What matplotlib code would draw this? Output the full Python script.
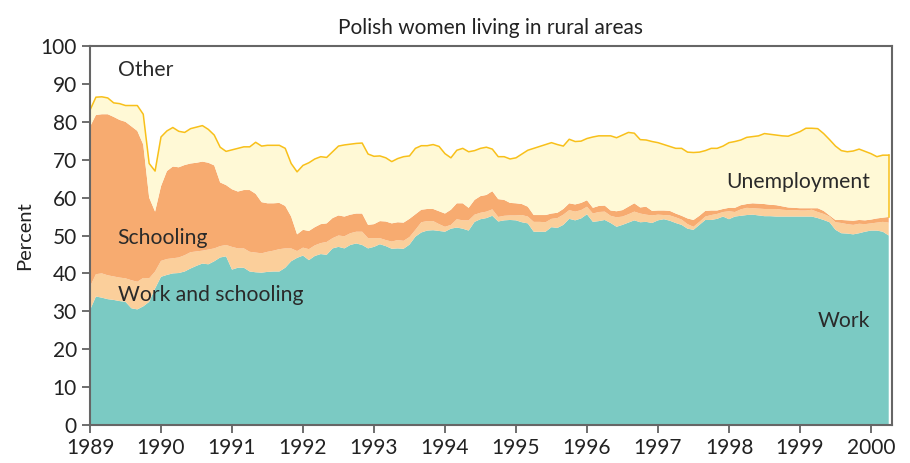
import numpy as np
import matplotlib
matplotlib.use("Agg")
import matplotlib.pyplot as plt

plt.rcParams["font.family"] = ["Lato", "DejaVu Sans"]

# monthly observations, Jan 1989 .. Apr 2000 (shares in percent)
start_year = 1989
work = [
    30.3, 33.9, 33.6, 33.2, 33.0, 32.7, 32.5, 30.8, 30.5, 31.3, 32.5, 36.0,
    39.1, 39.6, 40.0, 40.1, 40.5, 41.3, 42.0, 42.6, 42.4, 43.2, 44.2, 44.5,
    41.0, 41.5, 41.5, 40.5, 40.3, 40.2, 40.4, 40.5, 40.5, 41.5, 43.2, 44.1,
    44.7, 43.5, 44.6, 45.1, 44.9, 46.6, 47.0, 46.6, 47.5, 47.9, 47.5, 46.6,
    47.0, 47.7, 47.2, 46.5, 46.6, 46.5, 47.6, 49.7, 50.8, 51.3, 51.4, 51.2,
    51.0, 51.8, 52.1, 51.8, 51.3, 53.6, 54.3, 54.6, 55.2, 53.7, 54.0, 54.1,
    54.0, 53.5, 53.2, 51.0, 51.0, 51.0, 52.2, 52.0, 52.8, 54.4, 54.0, 54.5,
    55.6, 53.6, 53.8, 54.1, 53.3, 52.3, 52.8, 53.4, 54.0, 53.5, 53.6, 53.3,
    54.0, 54.3, 53.9, 53.3, 52.8, 51.8, 51.5, 52.8, 54.1, 54.1, 54.4, 55.0,
    54.3, 55.0, 55.2, 55.4, 55.5, 55.3, 55.1, 55.1, 55.0, 55.0, 55.0, 55.0,
    55.0, 55.0, 55.0, 54.6, 54.1, 53.5, 51.5, 50.6, 50.5, 50.3, 50.6, 51.0,
    51.3, 51.3, 51.0, 50.0,
]
work_and_schooling = [
    6.2, 5.9, 6.4, 6.3, 6.2, 6.2, 6.2, 7.4, 7.3, 7.5, 6.2, 4.5,
    4.2, 4.2, 4.0, 4.1, 4.3, 4.3, 3.8, 3.4, 3.9, 3.4, 3.0, 3.0,
    6.0, 5.1, 5.1, 5.2, 5.2, 5.1, 5.3, 5.5, 5.9, 5.1, 3.4, 1.8,
    2.1, 2.9, 2.8, 2.9, 3.4, 2.7, 3.0, 3.2, 3.1, 3.1, 3.5, 2.7,
    2.3, 1.6, 1.6, 1.9, 2.2, 2.1, 2.0, 1.8, 2.7, 2.5, 2.4, 1.8,
    1.3, 1.0, 2.2, 2.2, 2.7, 1.9, 1.7, 1.7, 1.7, 1.2, 1.2, 1.2,
    1.3, 1.9, 1.8, 2.6, 2.6, 2.5, 2.2, 2.6, 2.7, 2.3, 2.3, 2.2,
    2.0, 2.2, 2.4, 2.2, 1.9, 2.5, 2.2, 2.2, 2.3, 2.3, 1.9, 2.0,
    1.5, 1.1, 1.4, 1.5, 1.4, 1.2, 0.8, 0.8, 0.9, 1.3, 1.3, 1.2,
    2.1, 1.2, 1.7, 1.9, 1.7, 1.8, 1.9, 1.9, 2.0, 1.8, 1.7, 1.7,
    1.6, 1.6, 1.8, 1.6, 1.6, 1.5, 2.0, 2.7, 2.5, 2.5, 2.5, 2.0,
    1.9, 2.1, 2.6, 3.4,
]
schooling = [
    42.2, 42.0, 42.0, 42.5, 42.1, 41.6, 41.3, 40.6, 39.8, 35.2, 21.3, 15.8,
    19.7, 23.2, 24.2, 23.8, 23.8, 23.4, 23.4, 23.5, 22.9, 21.9, 16.8, 15.8,
    15.2, 15.0, 15.4, 16.3, 15.5, 13.5, 12.8, 12.5, 12.2, 11.2, 8.4, 4.4,
    4.7, 4.8, 4.8, 5.0, 4.9, 5.3, 5.3, 5.2, 4.9, 4.8, 4.8, 3.5,
    3.7, 4.5, 4.9, 4.8, 4.7, 4.8, 4.8, 4.1, 3.3, 3.2, 3.2, 3.4,
    3.5, 4.0, 4.2, 4.5, 3.3, 3.9, 4.4, 4.4, 4.8, 4.7, 4.2, 3.3,
    3.2, 2.9, 2.6, 1.8, 1.8, 1.9, 1.4, 1.4, 1.5, 1.8, 1.9, 1.9,
    1.7, 1.5, 1.6, 1.6, 1.4, 1.6, 1.7, 2.0, 2.2, 1.6, 2.1, 1.2,
    1.1, 1.2, 1.2, 1.0, 1.0, 1.5, 1.8, 1.6, 1.5, 1.2, 0.9, 0.8,
    0.9, 1.1, 1.1, 1.0, 1.3, 1.3, 1.3, 1.1, 1.0, 0.9, 0.7, 0.6,
    0.6, 0.6, 0.4, 1.0, 0.8, 0.3, 0.6, 0.8, 1.0, 1.1, 1.0, 1.0,
    1.0, 1.1, 1.1, 1.5,
]
unemployment = [
    4.4, 4.7, 4.6, 4.3, 3.7, 4.3, 4.3, 5.5, 6.7, 8.0, 9.0, 10.7,
    13.0, 10.6, 10.3, 9.5, 8.6, 9.2, 9.4, 9.5, 8.8, 8.0, 9.3, 8.9,
    10.4, 11.4, 11.4, 11.4, 13.6, 14.8, 15.3, 15.3, 15.2, 15.2, 14.0, 16.5,
    17.0, 18.0, 18.0, 17.8, 17.4, 17.5, 18.3, 18.9, 18.6, 18.5, 18.6, 18.7,
    17.9, 17.2, 16.8, 16.3, 16.8, 17.4, 16.6, 17.4, 16.9, 16.7, 17.0, 17.1,
    15.8, 13.7, 14.0, 14.5, 14.8, 13.0, 12.6, 12.6, 11.1, 11.2, 11.4, 11.6,
    12.0, 13.2, 14.9, 17.6, 18.1, 18.6, 18.7, 18.0, 16.6, 16.9, 16.6, 16.3,
    16.3, 18.7, 18.5, 18.4, 19.7, 19.4, 19.8, 19.6, 18.5, 17.9, 17.6, 18.3,
    17.9, 17.4, 17.0, 17.2, 17.8, 17.5, 17.8, 16.8, 15.9, 16.4, 16.4, 16.6,
    17.2, 17.5, 17.2, 17.6, 17.6, 17.9, 18.6, 18.6, 18.5, 18.6, 18.8, 19.5,
    20.2, 21.1, 21.1, 21.0, 20.4, 20.0, 19.5, 18.3, 18.1, 18.4, 18.7, 18.2,
    17.4, 16.3, 16.5, 16.3,
]

labels = ["Work", "Work and schooling", "Schooling", "Unemployment"]
colors = ["#7bcac3", "#fbcf9b", "#f7ab70", "#fff9d6"]
line_color = "#f8c01a"

years = start_year + np.arange(len(work)) / 12.0

fig = plt.figure(figsize=(9.1, 4.63), dpi=100)
ax = fig.add_axes([0.0989, 0.0821, 0.8813, 0.8185])

ax.stackplot(years, work, work_and_schooling, schooling, unemployment,
             colors=colors, linewidth=0, edgecolor="none")

below_unemp = np.array(work) + np.array(work_and_schooling) + np.array(schooling)
top = below_unemp + np.array(unemployment)
ax.plot(years, top, color=line_color, lw=1.1)
ax.plot([years[-1], years[-1]], [below_unemp[-1], top[-1]], color=line_color, lw=1.1)

ax.set_xlim(1989, 2000.296)
ax.set_ylim(0, 100)
ax.set_xticks(range(1989, 2001))
ax.set_yticks(range(0, 101, 10))
ax.tick_params(direction="out", length=5.5, width=1.2, color="#555555",
               labelsize=15, labelcolor="#222222", pad=4)
for s in ax.spines.values():
    s.set_color("#666666")
    s.set_linewidth(1.5)

ax.set_title("Polish women living in rural areas", fontsize=15, color="#222222", pad=9)
ax.set_ylabel("Percent", fontsize=14.5, color="#222222", labelpad=5)

txt = dict(fontsize=15.2, color="#2a2a2a", va="center")
ax.text(1989.39, 93.7, "Other", ha="left", **txt)
ax.text(1989.39, 49.3, "Schooling", ha="left", **txt)
ax.text(1989.39, 34.3, "Work and schooling", ha="left", **txt)
ax.text(1999.99, 64.1, "Unemployment", ha="right", **txt)
ax.text(1999.99, 27.4, "Work", ha="right", **txt)

fig.savefig("out.png", dpi=100)
